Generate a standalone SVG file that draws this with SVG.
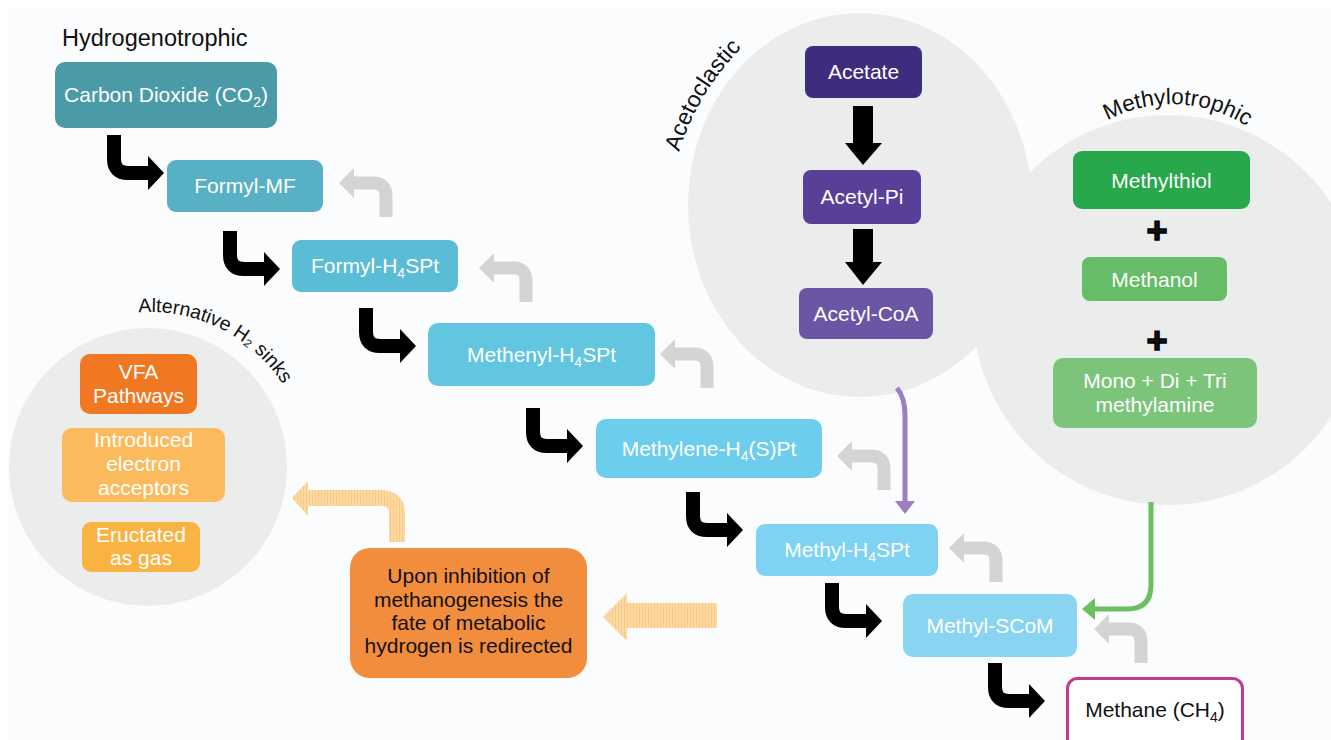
<svg xmlns="http://www.w3.org/2000/svg" xmlns:xlink="http://www.w3.org/1999/xlink" width="1331" height="740" viewBox="0 0 1331 740">
<style>
.t{font-family:"Liberation Sans",Arial,Helvetica,sans-serif;font-size:21px;text-anchor:middle;fill:#fff}
.k{fill:#111}
.lbl{font-family:"Liberation Sans",Arial,Helvetica,sans-serif;fill:#111}
.sub{font-size:14px}
.bg{fill:#ebecec}
</style>
<defs>
<g id="ba"><path d="M0 0 V24 Q0 38 14 38 H35" fill="none" stroke="#000" stroke-width="14"/><polygon points="34,21 50,38 34,55" fill="#000"/></g>
<g id="ga"><path d="M0 0 V-21 Q0 -34 -13 -34 H-33" fill="none" stroke="#d4d4d4" stroke-width="13"/><polygon points="-32,-49 -47,-34 -32,-19" fill="#d4d4d4"/></g>
<pattern id="stripes" patternUnits="userSpaceOnUse" width="3" height="10"><rect width="3" height="10" fill="#fdd9a3"/><rect width="1" height="10" fill="#f9c882"/></pattern>
<path id="altArc" d="M122.6 314.4 A158 158 0 0 1 302.6 429.1" fill="none"/>
<path id="acetoArc" d="M679 152 Q700 84 756 34" fill="none"/>
<path id="methArc" d="M1076.3 143 A138 138 0 0 1 1276 151.3" fill="none"/>
</defs>
<rect width="1331" height="740" fill="#ffffff"/>
<rect x="8" y="8" width="1323" height="732" fill="#fbfcfd"/>

<g id="backgrounds">
<circle class="bg" cx="148" cy="467" r="139"/>
<ellipse class="bg" cx="860" cy="205" rx="172" ry="192"/>
<circle class="bg" cx="1168" cy="310" r="195"/>
</g>

<g id="group-labels">
<text class="lbl" x="62" y="46" font-size="23.5">Hydrogenotrophic</text>
<text class="lbl" font-size="19.5"><textPath href="#altArc" startOffset="16">Alternative</textPath></text>
<text class="lbl" font-size="19.5"><textPath href="#altArc" startOffset="113.5">H₂ sinks</textPath></text>
<text class="lbl" font-size="23"><textPath href="#acetoArc" startOffset="0">Acetoclastic</textPath></text>
<text class="lbl" font-size="22.5"><textPath href="#methArc" startOffset="50%" text-anchor="middle">Methylotrophic</textPath></text>
</g>

<g id="connectors">
<use href="#ba" x="114" y="135"/>
<use href="#ba" x="230" y="231"/>
<use href="#ba" x="366" y="308"/>
<use href="#ba" x="533" y="408"/>
<use href="#ba" x="693" y="492"/>
<use href="#ba" x="832" y="583"/>
<use href="#ba" x="995" y="663"/>
<use href="#ga" x="386" y="217"/>
<use href="#ga" x="526" y="302"/>
<use href="#ga" x="707" y="388"/>
<use href="#ga" x="884" y="490"/>
<use href="#ga" x="996" y="582"/>
<use href="#ga" x="1141" y="663"/>
<path d="M853 106 H873 V143 H882 L863 165 L845 143 H853 Z" fill="#000"/>
<path d="M853 229 H873 V262 H882 L863 285 L845 262 H853 Z" fill="#000"/>
<path d="M897 388 Q905 398 905 415 V506" fill="none" stroke="#9a80c2" stroke-width="5"/>
<polygon points="895,501 905,514 915,501" fill="#9a80c2"/>
<path d="M1151 502 V585 Q1151 609 1127 609 H1092" fill="none" stroke="#6bbf5f" stroke-width="5"/>
<polygon points="1095,598 1082,609 1095,620" fill="#6bbf5f"/>
<path d="M717 603 H627 V593 L603 617 L627 641 V628 H717 Z" fill="url(#stripes)"/>
<path d="M397 542 V514 Q397 498 381 498 H306" fill="none" stroke="url(#stripes)" stroke-width="16"/>
<polygon points="308,481 292,498 308,516" fill="url(#stripes)"/>
</g>

<g id="n-co2"><rect x="55" y="62" width="222" height="66" rx="10" fill="#4b9aa8"/><text class="t" x="166" y="102">Carbon Dioxide (CO<tspan class="sub" dy="5">2</tspan><tspan dy="-5">)</tspan></text></g>
<g id="n-formylmf"><rect x="167" y="160" width="156" height="52" rx="9" fill="#58b0c4"/><text class="t" x="245" y="193">Formyl-MF</text></g>
<g id="n-formylh4spt"><rect x="292" y="240" width="166" height="52" rx="9" fill="#5bbdd5"/><text class="t" x="375" y="273">Formyl-H<tspan class="sub" dy="5">4</tspan><tspan dy="-5">SPt</tspan></text></g>
<g id="n-methenyl"><rect x="428" y="323" width="227" height="63" rx="10" fill="#62c6e1"/><text class="t" x="541.5" y="362">Methenyl-H<tspan class="sub" dy="5">4</tspan><tspan dy="-5">SPt</tspan></text></g>
<g id="n-methylene"><rect x="596" y="419" width="226" height="59" rx="10" fill="#6dcdec"/><text class="t" x="709" y="456">Methylene-H<tspan class="sub" dy="5">4</tspan><tspan dy="-5">(S)Pt</tspan></text></g>
<g id="n-methylh4spt"><rect x="756" y="524" width="182" height="52" rx="9" fill="#7dd3f1"/><text class="t" x="847" y="557">Methyl-H<tspan class="sub" dy="5">4</tspan><tspan dy="-5">SPt</tspan></text></g>
<g id="n-methylscom"><rect x="903" y="594" width="174" height="63" rx="10" fill="#89d4f0"/><text class="t" x="990" y="633">Methyl-SCoM</text></g>
<g id="n-methane"><rect x="1067.5" y="678.5" width="175" height="75" rx="10" fill="#fff" stroke="#c23b8a" stroke-width="3"/><text class="t k" x="1155" y="717">Methane (CH<tspan class="sub" dy="5">4</tspan><tspan dy="-5">)</tspan></text></g>

<g id="n-acetate"><rect x="805" y="46" width="117" height="52" rx="8" fill="#3e2c7e"/><text class="t" x="863.5" y="79">Acetate</text></g>
<g id="n-acetylpi"><rect x="803" y="170" width="118" height="54" rx="8" fill="#5a3f99"/><text class="t" x="862" y="204">Acetyl-Pi</text></g>
<g id="n-acetylcoa"><rect x="799" y="288" width="134" height="51" rx="8" fill="#6b56a5"/><text class="t" x="866" y="321">Acetyl-CoA</text></g>

<g id="n-methylthiol"><rect x="1073" y="151" width="177" height="58" rx="9" fill="#27a84a"/><text class="t" x="1161.5" y="188">Methylthiol</text></g>
<g id="plus1"><text class="lbl" x="1157" y="243" font-size="36" font-weight="bold" text-anchor="middle" stroke="#000" stroke-width="1.5">+</text></g>
<g id="n-methanol"><rect x="1082" y="257" width="145" height="44" rx="8" fill="#66bd68"/><text class="t" x="1154.5" y="287">Methanol</text></g>
<g id="plus2"><text class="lbl" x="1157" y="353" font-size="36" font-weight="bold" text-anchor="middle" stroke="#000" stroke-width="1.5">+</text></g>
<g id="n-methylamine"><rect x="1053" y="358" width="204" height="70" rx="10" fill="#7bc47a"/><text class="t" x="1155" y="388">Mono + Di + Tri</text><text class="t" x="1155" y="412">methylamine</text></g>

<g id="n-vfa"><rect x="80" y="354" width="117" height="60" rx="10" fill="#f07822"/><text class="t" x="138.5" y="379">VFA</text><text class="t" x="138.5" y="403">Pathways</text></g>
<g id="n-electron"><rect x="62" y="428" width="163" height="74" rx="10" fill="#fbba5b"/><text class="t" x="143.5" y="447">Introduced</text><text class="t" x="143.5" y="471">electron</text><text class="t" x="143.5" y="495">acceptors</text></g>
<g id="n-eructated"><rect x="82" y="522" width="118" height="50" rx="9" fill="#f8b343"/><text class="t" x="141" y="542">Eructated</text><text class="t" x="141" y="565">as gas</text></g>

<g id="n-inhibition"><rect x="350" y="548" width="237" height="130" rx="20" fill="#f38d3e"/>
<text class="t k" x="468.5" y="583">Upon inhibition of</text>
<text class="t k" x="468.5" y="607">methanogenesis the</text>
<text class="t k" x="468.5" y="630">fate of metabolic</text>
<text class="t k" x="468.5" y="653">hydrogen is redirected</text></g>
</svg>
